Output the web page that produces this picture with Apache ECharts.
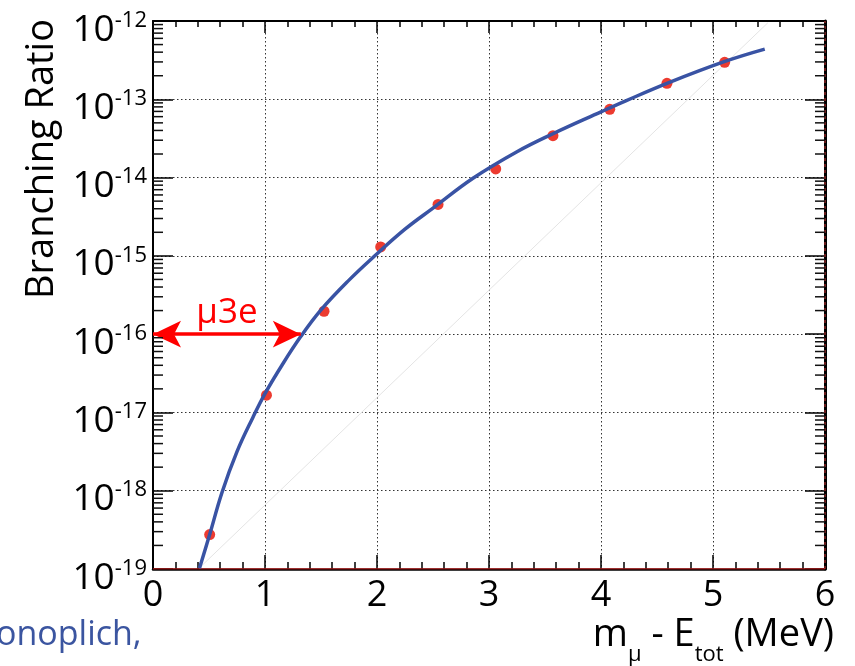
<!DOCTYPE html>
<html>
<head>
<meta charset="utf-8">
<script src="https://cdn.jsdelivr.net/npm/echarts@6/dist/echarts.min.js"></script>
<style>
  html, body { margin: 0; padding: 0; background: #fff; }
  #chart { width: 855px; height: 666px; }
</style>
</head>
<body>
<div id="chart"></div>
<script>
// Branching ratio versus m_mu - E_tot (MeV): smooth curve samples
const curveX  = [0.415, 0.506, 0.616, 0.75, 0.893, 1.0, 1.15, 1.319, 1.5, 1.75,
                 1.973, 2.25, 2.5, 2.857, 3.25, 3.571, 4.0, 4.221, 4.6, 5.1, 5.462];
const curveBR = [1.02e-19, 2.75e-19, 9.5e-19, 3.16e-18, 8.7e-18, 1.74e-17, 3.98e-17, 9.3e-17, 2.04e-16, 4.9e-16,
                 9.8e-16, 2.19e-15, 4.07e-15, 9.8e-15, 2.14e-14, 3.63e-14, 6.9e-14, 9.55e-14, 1.62e-13, 3.02e-13, 4.37e-13];

// Computed points (red markers)
const pointX  = [0.506, 1.013, 1.527, 2.033, 2.545, 3.06, 3.571, 4.078, 4.589, 5.104];
const pointBR = [2.75e-19, 1.66e-17, 1.96e-16, 1.30e-15, 4.54e-15, 1.29e-14, 3.43e-14, 7.45e-14, 1.60e-13, 2.97e-13];

// Thin straight reference line
const refX  = [0.42, 5.49];
const refBR = [1.05e-19, 9.5e-13];

// mu3e reach arrow
const arrowX  = [0, 1.32];
const arrowBR = 1e-16;
const arrowText = 'μ3e';

// Axis ranges
const xMin = 0, xMax = 6, xStep = 1;
const yMin = 1e-19, yMax = 1e-12;
const yDecades = [-19, -18, -17, -16, -15, -14, -13, -12];
const minorMult = [2, 3, 4, 5, 6, 7, 8, 9];

// Minor tick values on the log axis (2..9 in each decade)
const yMinorTicks = [];
for (let i = 0; i < yDecades.length - 1; i++) {
  for (const m of minorMult) yMinorTicks.push(m * Math.pow(10, yDecades[i]));
}

const FONT = 'Open Sans';
const BLUE = '#3953a4';
const RED = '#ec3b30';

const chart = echarts.init(document.getElementById('chart'), null, { renderer: 'canvas' });

const gridLine = { show: true, lineStyle: { type: [1.5, 2.5], color: '#333', width: 1 } };

const option = {
  animation: false,
  backgroundColor: '#fff',
  textStyle: { fontFamily: FONT },
  grid: { left: 153, right: 30, top: 21, bottom: 97, containLabel: false },
  xAxis: [
    {
      type: 'value', min: xMin, max: xMax, interval: xStep, position: 'bottom',
      axisLine: { show: true, onZero: false, lineStyle: { color: '#000', width: 2.5 } },
      axisTick: { show: true, inside: true, length: 14, lineStyle: { color: '#000', width: 1.5 } },
      minorTick: { show: true, splitNumber: 5, length: 7, lineStyle: { color: '#000', width: 1.5 } },
      axisLabel: { show: true, margin: 9, fontSize: 36, color: '#000', fontFamily: FONT },
      splitLine: gridLine
    },
    {
      type: 'value', min: xMin, max: xMax, interval: xStep, position: 'top',
      axisLine: { show: true, onZero: false, lineStyle: { color: '#000', width: 2 } },
      axisTick: { show: true, inside: true, length: 12, lineStyle: { color: '#000', width: 1.5 } },
      minorTick: { show: true, splitNumber: 5, length: 6, lineStyle: { color: '#000', width: 1.5 } },
      axisLabel: { show: false },
      splitLine: { show: false }
    }
  ],
  yAxis: [
    {
      type: 'log', logBase: 10, min: yMin, max: yMax, splitNumber: 7, position: 'left',
      axisLine: { show: true, onZero: false, lineStyle: { color: '#000', width: 2 } },
      axisTick: { show: true, inside: true, length: 20, lineStyle: { color: '#000', width: 1.5 } },
      axisLabel: {
        show: true, margin: 6, color: '#000',
        formatter: v => '{a|10}{b|' + Math.round(Math.log10(v)) + '}',
        rich: {
          a: { fontSize: 37, fontFamily: FONT, color: '#000', padding: [18, 0, 0, 0], verticalAlign: 'top' },
          b: { fontSize: 22, fontFamily: FONT, color: '#000', padding: [16, 0, 0, 0], verticalAlign: 'top' }
        }
      },
      splitLine: gridLine
    },
    {
      type: 'log', logBase: 10, min: yMin, max: yMax, splitNumber: 7, position: 'right',
      axisLine: { show: true, onZero: false, lineStyle: { color: '#000', width: 3 } },
      axisTick: { show: true, inside: true, length: 20, lineStyle: { color: '#000', width: 1.5 } },
      axisLabel: { show: false },
      splitLine: { show: false }
    }
  ],
  series: [
    {
      // minor ticks of the log axes, left and right frame
      type: 'custom',
      silent: true,
      z: 6,
      data: yMinorTicks.map(v => [xMin, v]),
      encode: { x: 0, y: 1 },
      renderItem: (params, api) => {
        const v = api.value(1);
        const pl = api.coord([xMin, v]);
        const pr = api.coord([xMax, v]);
        const st = { stroke: '#111', lineWidth: 1.5 };
        return {
          type: 'group',
          children: [
            { type: 'line', shape: { x1: pl[0], y1: pl[1], x2: pl[0] + 10, y2: pl[1] }, style: st },
            { type: 'line', shape: { x1: pr[0] - 10, y1: pr[1], x2: pr[0], y2: pr[1] }, style: st }
          ]
        };
      }
    },
    {
      // zero-level frame lines
      type: 'line', silent: true, symbol: 'none', z: 3,
      data: [[xMin, yMin], [xMax, yMin]],
      lineStyle: { color: '#ff2020', width: 1 }
    },
    {
      type: 'line', silent: true, symbol: 'none', z: 3,
      data: [[xMax, yMin], [xMax, yMax]],
      lineStyle: { color: '#ff4040', width: 1, type: [3, 3], opacity: 0.8 }
    },
    {
      // straight reference line
      type: 'line', silent: true, symbol: 'none', z: 2,
      data: refX.map((x, i) => [x, refBR[i]]),
      lineStyle: { color: '#e4e4e4', width: 1 }
    },
    {
      type: 'scatter', silent: true, z: 3,
      symbol: 'circle', symbolSize: 11,
      itemStyle: { color: RED, opacity: 1 },
      data: pointX.map((x, i) => [x, pointBR[i]])
    },
    {
      type: 'line', silent: true, symbol: 'none', z: 4, smooth: 0.4,
      data: curveX.map((x, i) => [x, curveBR[i]]),
      lineStyle: { color: BLUE, width: 3.5 },
      markLine: {
        silent: true,
        animation: false,
        symbol: ['arrow', 'arrow'],
        symbolSize: [20, 28],
        lineStyle: { color: '#ff0000', width: 3.5, type: 'solid' },
        label: {
          show: true, formatter: arrowText, position: 'insideMiddleTop', distance: 4,
          color: '#ff0000', fontSize: 35, fontFamily: FONT
        },
        data: [[{ coord: [arrowX[0], arrowBR] }, { coord: [arrowX[1], arrowBR] }]]
      }
    }
  ],
  graphic: [
    {
      type: 'text', x: 42, y: 19, rotation: Math.PI / 2,
      style: {
        text: 'Branching Ratio', fill: '#000', font: '38px "Open Sans"',
        align: 'right', verticalAlign: 'middle'
      }
    },
    {
      type: 'text', x: 834, y: 666,
      style: {
        text: '{m|m}{s|μ}{m| - E}{s|tot}{m| (MeV)}',
        align: 'right', verticalAlign: 'bottom', fill: '#000',
        rich: {
          m: { fontSize: 38, fontFamily: FONT, fill: '#000', padding: [0, 0, 12, 0], verticalAlign: 'bottom' },
          s: { fontSize: 22, fontFamily: FONT, fill: '#000', verticalAlign: 'bottom' }
        }
      }
    },
    {
      type: 'text', x: -4, y: 635,
      style: { text: 'onoplich,', fill: '#3b55a0', font: '34px "Open Sans"', align: 'left', verticalAlign: 'middle' }
    }
  ]
};

chart.setOption(option);
</script>
</body>
</html>
